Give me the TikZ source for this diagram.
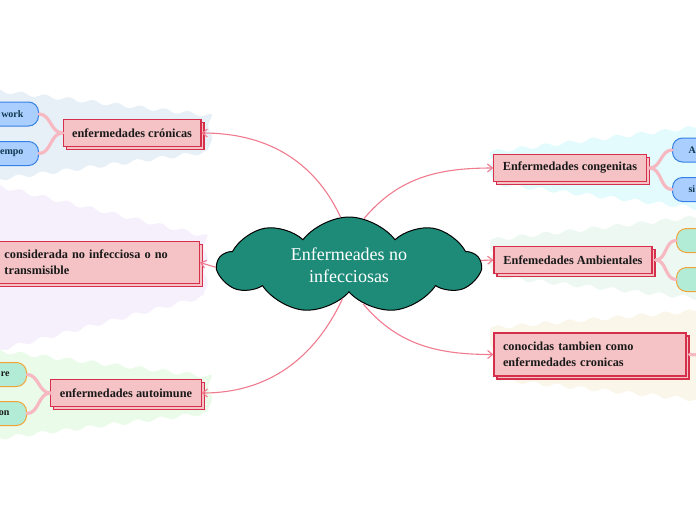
\documentclass[tikz,border=0pt]{standalone}
\usepackage{fontspec}
\setmainfont{Liberation Serif}
\usepackage{xcolor}
\definecolor{cRoot}{HTML}{1E8A78}
\definecolor{cLine}{HTML}{F07A8E}
\definecolor{cBranch}{HTML}{F6B8C1}
\definecolor{cBoxFill}{HTML}{F5C3C6}
\definecolor{cBoxDraw}{HTML}{D62F4B}
\definecolor{cBlueFill}{HTML}{AACEFE}
\definecolor{cBlueDraw}{HTML}{3480E6}
\definecolor{cBlueText}{HTML}{12384F}
\definecolor{cMintFill}{HTML}{B2ECD6}
\definecolor{cOrange}{HTML}{F2A337}
\definecolor{cBgBlue}{HTML}{E8F0F7}
\definecolor{cBgLila}{HTML}{F6EFFC}
\definecolor{cBgGreen}{HTML}{EBFBE9}
\definecolor{cBgCyan}{HTML}{E3FBFD}
\definecolor{cBgMint}{HTML}{EEF8F2}
\definecolor{cBgCream}{HTML}{FBF6EA}
\usepackage{tikz}
\usetikzlibrary{positioning,arrows.meta,shapes.symbols,shadows,%
  decorations.pathmorphing}
\tikzset{
  node-root/.style={cloud,cloud puffs=9,cloud puff arc=105,cloud ignores aspect,
    draw=black,line width=1pt,fill=cRoot,text=white,align=center,
    minimum width=262pt,minimum height=96pt,inner sep=0pt,
    font=\fontsize{18}{22}\selectfont},
  node-topic/.style={draw=cBoxDraw,line width=1.1pt,fill=cBoxFill,
    copy shadow={shadow xshift=3pt,shadow yshift=-3pt},
    minimum height=27pt,inner xsep=9pt,text=black!90,
    font=\bfseries\fontsize{12.3}{16}\selectfont},
  node-leaf-blue/.style={draw=cBlueDraw,line width=1pt,fill=cBlueFill,
    rounded corners=10pt,minimum height=24pt,text width=60pt,text=cBlueText,
    font=\bfseries\fontsize{10}{12}\selectfont},
  node-leaf-mint/.style={draw=cOrange,line width=1pt,fill=cMintFill,
    rounded corners=10pt,minimum height=24pt,text width=60pt,text=black!90,
    font=\bfseries\fontsize{10}{12}\selectfont},
  arrow/.style={-{Straight Barb[length=5pt,width=8pt]},line width=1.1pt,draw=cLine},
  branch/.style={line width=3.2pt,draw=cBranch,line cap=round},
  bg-wave/.style={decorate,decoration={snake,amplitude=2pt,segment length=24pt}},
}
\begin{document}
\begin{tikzpicture}[x=1pt,y=1pt]
  \useasboundingbox (0,0) rectangle (696,-520);
  \clip (0,0) rectangle (696,-520);

  % fondos ondulados de cada rama
  \fill[cBgBlue,bg-wave]  (-10,-90) -- (205,-115) -- (205,-152) -- (-10,-180) -- cycle;
  \fill[cBgLila,bg-wave]  (-10,-184) -- (205,-236) -- (205,-290) -- (-10,-346) -- cycle;
  \fill[cBgGreen,bg-wave] (-10,-350) -- (205,-376) -- (205,-412) -- (-10,-438) -- cycle;
  \fill[cBgCyan,bg-wave]  (490,-152) -- (706,-126) -- (706,-214) -- (490,-188) -- cycle;
  \fill[cBgMint,bg-wave]  (490,-240) -- (706,-216) -- (706,-304) -- (490,-281) -- cycle;
  \fill[cBgCream,bg-wave] (490,-328) -- (706,-310) -- (706,-402) -- (490,-380) -- cycle;

  % temas
  \node[node-topic,minimum width=137pt] (cronicas) at (132,-133) {enfermedades crónicas};
  \node[node-topic,anchor=east,text width=186pt,align=left,minimum height=42pt]
    (noinf) at (200,-262.5) {considerada no infecciosa o no\\transmisible};
  \node[node-topic,minimum width=150pt] (autoinm) at (126,-393) {enfermedades autoimune};
  \node[node-topic,minimum width=152pt] (congen) at (570,-168) {Enfermedades congenitas};
  \node[node-topic,minimum width=158pt] (ambient) at (573,-260) {Enfemedades Ambientales};
  \node[node-topic,text width=174pt,align=left,minimum height=43pt]
    (conoc) at (590,-354.5) {conocidas tambien como\\enfermedades cronicas};

  % hojas
  \node[node-leaf-blue,anchor=east,align=right,inner xsep=15pt] (netw) at (39,-114) {work};
  \node[node-leaf-blue,anchor=east,align=right,inner xsep=15pt] (tiempo) at (39,-153.5) {empo};
  \node[node-leaf-mint,anchor=east,align=right,inner xsep=17pt] (autoA) at (27,-374.5) {re};
  \node[node-leaf-mint,anchor=east,align=right,inner xsep=17pt] (autoB) at (27,-413.5) {on};
  \node[node-leaf-blue,anchor=west,align=left,inner xsep=16pt] (congA) at (672,-150) {A};
  \node[node-leaf-blue,anchor=west,align=left,inner xsep=16pt] (congB) at (672,-189.5) {si};
  \node[node-leaf-mint,anchor=west] (ambA) at (676,-240.5) {};
  \node[node-leaf-mint,anchor=west] (ambB) at (676,-279.5) {};
  \coordinate (conocOut) at (700,-355);

  % ramas hacia las hojas (detras de las cajas)
  \draw[branch] (cronicas.west) to[out=180,in=0] (netw.east);
  \draw[branch] (cronicas.west) to[out=180,in=0] (tiempo.east);
  \draw[branch] (autoinm.west) to[out=180,in=0] (autoA.east);
  \draw[branch] (autoinm.west) to[out=180,in=0] (autoB.east);
  \draw[branch] ([xshift=3pt]congen.east) to[out=0,in=180] (congA.west);
  \draw[branch] ([xshift=3pt]congen.east) to[out=0,in=180] (congB.west);
  \draw[branch] ([xshift=3pt]ambient.east) to[out=0,in=180] (ambA.west);
  \draw[branch] ([xshift=3pt]ambient.east) to[out=0,in=180] (ambB.west);
  \draw[branch] ([xshift=3pt]conoc.east) -- (conocOut);

  % idea central
  \node[node-root] (root) at (349,-265) {Enfermeades no\\infecciosas};

  \draw[arrow] (root.100) to[out=115,in=0] (cronicas.east);
  \draw[arrow] (root.181) -- (noinf.east);
  \draw[arrow] (root.259) to[out=-115,in=0] (autoinm.east);
  \draw[arrow] (root.72) to[out=50,in=180] (congen.west);
  \draw[arrow] (root.2) -- (ambient.west);
  \draw[arrow] (root.290) to[out=-50,in=180] (conoc.west);
\end{tikzpicture}
\end{document}
